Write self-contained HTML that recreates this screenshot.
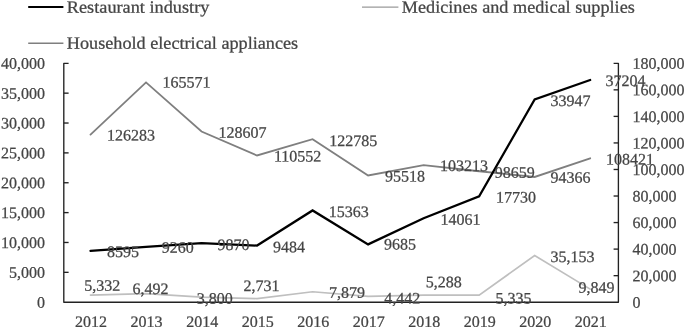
<!DOCTYPE html>
<html><head><meta charset="utf-8"><title>chart</title>
<style>
html,body{margin:0;padding:0;background:#fff;}
body{width:685px;height:327px;overflow:hidden;}
svg{display:block;will-change:transform;}
text{font-family:"Liberation Serif",serif;font-size:16px;fill:#444444;stroke:#444444;stroke-width:0.25px;}
</style></head><body>
<svg width="685" height="327" viewBox="0 0 685 327">
<rect width="685" height="327" fill="#fff"/>

<line x1="28.2" y1="7.1" x2="63.4" y2="7.1" stroke="#000" stroke-width="2"/>
<text transform="translate(66.80 12.70) rotate(0.03) scale(1.057 1)" style="font-size:17.3px">Restaurant industry</text>
<line x1="28.2" y1="43.2" x2="63.4" y2="43.2" stroke="#7f7f7f" stroke-width="1.4"/>
<text transform="translate(66.80 48.70) rotate(0.03) scale(1.052 1)" style="font-size:17.3px">Household electrical appliances</text>
<line x1="362" y1="7.1" x2="398.4" y2="7.1" stroke="#9a9a9a" stroke-width="1.3"/>
<text transform="translate(401.80 12.70) rotate(0.03) scale(1.053 1)" style="font-size:17.3px">Medicines and medical supplies</text>
<polyline points="90.50,295.12 146.02,293.58 201.54,297.16 257.06,298.58 312.58,291.74 368.10,296.30 423.62,295.18 479.14,295.12 534.66,255.54 590.18,289.13" fill="none" stroke-linejoin="miter" stroke-linecap="round" stroke="#bfbfbf" stroke-width="1.7"/>
<polyline points="90.50,134.59 146.02,82.45 201.54,131.51 257.06,155.47 312.58,139.24 368.10,175.43 423.62,165.21 479.14,171.26 534.66,176.96 590.18,158.30" fill="none" stroke-linejoin="miter" stroke-linecap="round" stroke="#7f7f7f" stroke-width="1.8"/>
<polyline points="90.50,250.87 146.02,246.89 201.54,243.25 257.06,245.56 312.58,210.44 368.10,244.36 423.62,218.22 479.14,196.31 534.66,99.45 590.18,80.00" fill="none" stroke-linejoin="miter" stroke-linecap="round" stroke="#000" stroke-width="2.25"/>
<path d="M68.6 63.3 H63.8 V302.2 H618.4 V63.3 H613.6" fill="none" stroke="#222" stroke-width="1.35" stroke-linejoin="round"/>
<text transform="translate(44.90 307.70) rotate(0.03) scale(1.0 1)" text-anchor="end">0</text>
<line x1="63.8" y1="272.34" x2="68.6" y2="272.34" stroke="#222" stroke-width="1.35"/>
<text transform="translate(44.90 277.84) rotate(0.03) scale(1.0 1)" text-anchor="end">5,000</text>
<line x1="63.8" y1="242.47" x2="68.6" y2="242.47" stroke="#222" stroke-width="1.35"/>
<text transform="translate(44.90 247.97) rotate(0.03) scale(1.0 1)" text-anchor="end">10,000</text>
<line x1="63.8" y1="212.61" x2="68.6" y2="212.61" stroke="#222" stroke-width="1.35"/>
<text transform="translate(44.90 218.11) rotate(0.03) scale(1.0 1)" text-anchor="end">15,000</text>
<line x1="63.8" y1="182.75" x2="68.6" y2="182.75" stroke="#222" stroke-width="1.35"/>
<text transform="translate(44.90 188.25) rotate(0.03) scale(1.0 1)" text-anchor="end">20,000</text>
<line x1="63.8" y1="152.89" x2="68.6" y2="152.89" stroke="#222" stroke-width="1.35"/>
<text transform="translate(44.90 158.39) rotate(0.03) scale(1.0 1)" text-anchor="end">25,000</text>
<line x1="63.8" y1="123.03" x2="68.6" y2="123.03" stroke="#222" stroke-width="1.35"/>
<text transform="translate(44.90 128.53) rotate(0.03) scale(1.0 1)" text-anchor="end">30,000</text>
<line x1="63.8" y1="93.16" x2="68.6" y2="93.16" stroke="#222" stroke-width="1.35"/>
<text transform="translate(44.90 98.66) rotate(0.03) scale(1.0 1)" text-anchor="end">35,000</text>
<text transform="translate(44.90 68.80) rotate(0.03) scale(1.0 1)" text-anchor="end">40,000</text>
<text transform="translate(632.60 307.70) rotate(0.03) scale(1.0 1)">0</text>
<line x1="613.6" y1="275.66" x2="618.4" y2="275.66" stroke="#222" stroke-width="1.35"/>
<text transform="translate(632.60 281.16) rotate(0.03) scale(1.0 1)">20,000</text>
<line x1="613.6" y1="249.11" x2="618.4" y2="249.11" stroke="#222" stroke-width="1.35"/>
<text transform="translate(632.60 254.61) rotate(0.03) scale(1.0 1)">40,000</text>
<line x1="613.6" y1="222.57" x2="618.4" y2="222.57" stroke="#222" stroke-width="1.35"/>
<text transform="translate(632.60 228.07) rotate(0.03) scale(1.0 1)">60,000</text>
<line x1="613.6" y1="196.02" x2="618.4" y2="196.02" stroke="#222" stroke-width="1.35"/>
<text transform="translate(632.60 201.52) rotate(0.03) scale(1.0 1)">80,000</text>
<line x1="613.6" y1="169.48" x2="618.4" y2="169.48" stroke="#222" stroke-width="1.35"/>
<text transform="translate(632.60 174.98) rotate(0.03) scale(1.0 1)">100,000</text>
<line x1="613.6" y1="142.93" x2="618.4" y2="142.93" stroke="#222" stroke-width="1.35"/>
<text transform="translate(632.60 148.43) rotate(0.03) scale(1.0 1)">120,000</text>
<line x1="613.6" y1="116.39" x2="618.4" y2="116.39" stroke="#222" stroke-width="1.35"/>
<text transform="translate(632.60 121.89) rotate(0.03) scale(1.0 1)">140,000</text>
<line x1="613.6" y1="89.84" x2="618.4" y2="89.84" stroke="#222" stroke-width="1.35"/>
<text transform="translate(632.60 95.34) rotate(0.03) scale(1.0 1)">160,000</text>
<text transform="translate(632.60 68.80) rotate(0.03) scale(1.0 1)">180,000</text>
<text transform="translate(91.10 327.00) rotate(0.03) scale(1.0 1)" text-anchor="middle">2012</text>
<text transform="translate(146.62 327.00) rotate(0.03) scale(1.0 1)" text-anchor="middle">2013</text>
<text transform="translate(202.14 327.00) rotate(0.03) scale(1.0 1)" text-anchor="middle">2014</text>
<text transform="translate(257.66 327.00) rotate(0.03) scale(1.0 1)" text-anchor="middle">2015</text>
<text transform="translate(313.18 327.00) rotate(0.03) scale(1.0 1)" text-anchor="middle">2016</text>
<text transform="translate(368.70 327.00) rotate(0.03) scale(1.0 1)" text-anchor="middle">2017</text>
<text transform="translate(424.22 327.00) rotate(0.03) scale(1.0 1)" text-anchor="middle">2018</text>
<text transform="translate(479.74 327.00) rotate(0.03) scale(1.0 1)" text-anchor="middle">2019</text>
<text transform="translate(535.26 327.00) rotate(0.03) scale(1.0 1)" text-anchor="middle">2020</text>
<text transform="translate(590.78 327.00) rotate(0.03) scale(1.0 1)" text-anchor="middle">2021</text>
<text transform="translate(107.00 257.10) rotate(0.03) scale(1.0 1)">8595</text>
<text transform="translate(161.70 252.80) rotate(0.03) scale(1.0 1)">9260</text>
<text transform="translate(217.50 250.00) rotate(0.03) scale(1.0 1)">9870</text>
<text transform="translate(273.00 252.30) rotate(0.03) scale(1.0 1)">9484</text>
<text transform="translate(328.70 217.00) rotate(0.03) scale(1.0 1)">15363</text>
<text transform="translate(384.00 249.60) rotate(0.03) scale(1.0 1)">9685</text>
<text transform="translate(440.50 224.80) rotate(0.03) scale(1.0 1)">14061</text>
<text transform="translate(496.00 202.40) rotate(0.03) scale(1.0 1)">17730</text>
<text transform="translate(550.50 106.00) rotate(0.03) scale(1.0 1)">33947</text>
<text transform="translate(605.60 86.10) rotate(0.03) scale(1.0 1)">37204</text>
<text transform="translate(107.00 140.40) rotate(0.03) scale(1.0 1)">126283</text>
<text transform="translate(162.50 87.60) rotate(0.03) scale(1.0 1)">165571</text>
<text transform="translate(218.50 137.70) rotate(0.03) scale(1.0 1)">128607</text>
<text transform="translate(273.90 161.50) rotate(0.03) scale(1.0 1)">110552</text>
<text transform="translate(329.20 146.00) rotate(0.03) scale(1.0 1)">122785</text>
<text transform="translate(385.10 181.50) rotate(0.03) scale(1.0 1)">95518</text>
<text transform="translate(440.00 171.00) rotate(0.03) scale(1.0 1)">103213</text>
<text transform="translate(494.80 177.70) rotate(0.03) scale(1.0 1)">98659</text>
<text transform="translate(550.50 182.70) rotate(0.03) scale(1.0 1)">94366</text>
<text transform="translate(606.00 164.40) rotate(0.03) scale(1.0 1)">108421</text>
<text transform="translate(84.30 290.70) rotate(0.03) scale(1.0 1)">5,332</text>
<text transform="translate(132.60 294.00) rotate(0.03) scale(1.0 1)">6,492</text>
<text transform="translate(196.80 303.80) rotate(0.03) scale(1.0 1)">3,800</text>
<text transform="translate(243.60 291.00) rotate(0.03) scale(1.0 1)">2,731</text>
<text transform="translate(329.00 297.70) rotate(0.03) scale(1.0 1)">7,879</text>
<text transform="translate(384.20 303.50) rotate(0.03) scale(1.0 1)">4,442</text>
<text transform="translate(425.70 287.30) rotate(0.03) scale(1.0 1)">5,288</text>
<text transform="translate(495.50 303.40) rotate(0.03) scale(1.0 1)">5,335</text>
<text transform="translate(550.50 262.10) rotate(0.03) scale(1.0 1)">35,153</text>
<text transform="translate(578.60 292.70) rotate(0.03) scale(1.0 1)">9,849</text>
</svg></body></html>
